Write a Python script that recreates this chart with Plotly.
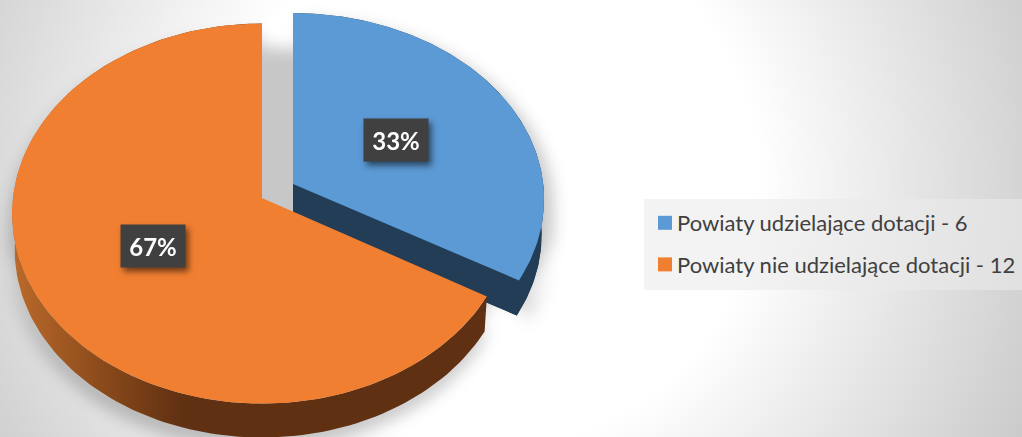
import numpy as np
import plotly.graph_objects as go

categories = ["Powiaty udzielające dotacji", "Powiaty nie udzielające dotacji"]
values = [6, 12]
top_colors = ["#5b9ad5", "#f17f31"]
side_color_blue = "#223d55"
orange_side_scale = [[0, "#bb6a2a"], [0.5, "#86471a"], [0.85, "#613112"], [1, "#5f3012"]]

W, H = 1022, 437
RX, RY, PERSP = 249, 188.7, 0.082
DEPTH, LOWER_SCALE = 36, 0.99
APEX = [(293, 184), (262, 198)]
SLICE_SX = [1.005, 1.0]
SLICE_SY = [0.98, 1.0]

total = sum(values)
shares = [v / total for v in values]
starts = [0, shares[0]]


def project(i, frac, scale=1.0, drop=0.0):
    t = 2 * np.pi * np.asarray(frac)
    X, Y = np.sin(t), -np.cos(t)
    w = 1 - PERSP * Y
    px, py = APEX[i]
    return (px + scale * SLICE_SX[i] * RX * X / w,
            py + scale * SLICE_SY[i] * RY * Y / w + drop)


def wedge(i, scale=1.0, drop=0.0):
    f = np.linspace(starts[i], starts[i] + shares[i], 160)
    x, y = project(i, f, scale, drop)
    ax, ay = APEX[i][0], APEX[i][1] + drop
    return np.r_[ax, x, ax], np.r_[ay, y, ay]


def band(i):
    f = np.linspace(starts[i], starts[i] + shares[i], 160)
    x1, y1 = project(i, f)
    x2, y2 = project(i, f, LOWER_SCALE, DEPTH)
    return np.r_[x1, x2[::-1], x1[0]], np.r_[y1, y2[::-1], y1[0]]


def poly(x, y, color, name, **kw):
    return go.Scatter(x=x, y=y, mode="lines", fill="toself", fillcolor=color,
                      line=dict(width=0, color=color), hoverinfo="skip",
                      showlegend=False, name=name, **kw)


fig = go.Figure()

# one soft shadow made of the slices' outlines (blurred in the page)
shadow_parts = []
b0x, b0y = band(0)
b1x, b1y = band(1)
w0x, w0y = wedge(0)
w1x, w1y = wedge(1)
shadow_parts.append((b0x + 9, b0y + 8))
shadow_parts.append((w0x + 9, w0y + 30))
shadow_parts.append((w0x - 36, w0y + 34))
shadow_parts.append((b1x - 2, b1y + 11))
shadow_parts.append((w1x - 3, w1y + 22))
sx = np.concatenate([np.r_[a, np.nan] for a, _ in shadow_parts])
sy = np.concatenate([np.r_[b, np.nan] for _, b in shadow_parts])
fig.add_trace(poly(sx, sy, "rgba(0,0,0,0.22)", "shadow"))

# blue slice walls then face
lx, ly = wedge(0, LOWER_SCALE, DEPTH)
fig.add_trace(poly(lx, ly, side_color_blue, "blue-lower"))
fig.add_trace(poly(b0x, b0y, side_color_blue, "blue-wall"))
ex, ey = project(0, shares[0])
ex2, ey2 = project(0, shares[0], LOWER_SCALE, DEPTH)
ax, ay = APEX[0]
fig.add_trace(poly([ax, ex, ex2, ax, ax], [ay, ey, ey2, ay + DEPTH, ay], side_color_blue, "blue-cut"))
fig.add_trace(poly(w0x, w0y, top_colors[0], categories[0]))

# orange slice wall then face
fig.add_trace(go.Scatter(x=b1x, y=b1y, mode="lines", fill="toself", hoverinfo="skip", showlegend=False,
                         line=dict(width=0), name="orange-wall",
                         fillgradient=dict(type="horizontal", colorscale=orange_side_scale,
                                           start=12, stop=210)))
fig.add_trace(poly(w1x, w1y, top_colors[1], categories[1]))

# legend entries
for c, v, col in zip(categories, values, top_colors):
    fig.add_trace(go.Scatter(x=[None], y=[None], mode="markers", name=f"{c} - {v}", legendgroup=c,
                             marker=dict(symbol="square", size=14, color=col)))

# percentage labels
label_pos = [(396, 139.5), (152.5, 246)]
annotations = [dict(x=x, y=y, xref="x", yref="y", text=f"<b>{round(s * 100)}%</b>", showarrow=False,
                    bgcolor="#404040", width=62, height=40,
                    font=dict(family="Lato", size=24, color="white"))
               for (x, y), s in zip(label_pos, shares)]

fig.update_layout(
    width=W, height=H, margin=dict(l=0, r=0, t=0, b=0), autosize=False,
    paper_bgcolor="rgba(0,0,0,0)", plot_bgcolor="rgba(0,0,0,0)",
    xaxis=dict(range=[0, W], visible=False, fixedrange=True),
    yaxis=dict(range=[H, 0], visible=False, fixedrange=True),
    annotations=annotations,
    shapes=[dict(type="rect", xref="x", yref="y", x0=644, x1=W, y0=199, y1=290, layer="below",
                 line=dict(width=0), fillcolor="rgba(234,234,234,0.58)")],
    legend=dict(x=637 / W, y=1 - 202 / H, xanchor="left", yanchor="top", bgcolor="rgba(0,0,0,0)",
                tracegroupgap=10, font=dict(family="Lato", size=22, color="#404040"),
                itemwidth=30),
)

post = """
document.documentElement.style.height='100%';
document.body.style.margin='0';
document.body.style.height='100%';
document.body.style.overflow='hidden';
document.body.style.background='radial-gradient(circle 620px at 490px 180px,#ffffff 0%,#ffffff 43%,#c6c6c6 100%)';
var tr=document.querySelectorAll('.scatterlayer .trace');
tr[0].style.filter='blur(8px)';
document.querySelectorAll('.annotation').forEach(function(a){a.style.filter='drop-shadow(3px 4px 3px rgba(0,0,0,0.55))';});
document.querySelectorAll('.legendsymbols').forEach(function(s){s.setAttribute('transform','translate(8,0)');});
"""
fig.write_html("out.html", post_script=post, config={"displayModeBar": False})
